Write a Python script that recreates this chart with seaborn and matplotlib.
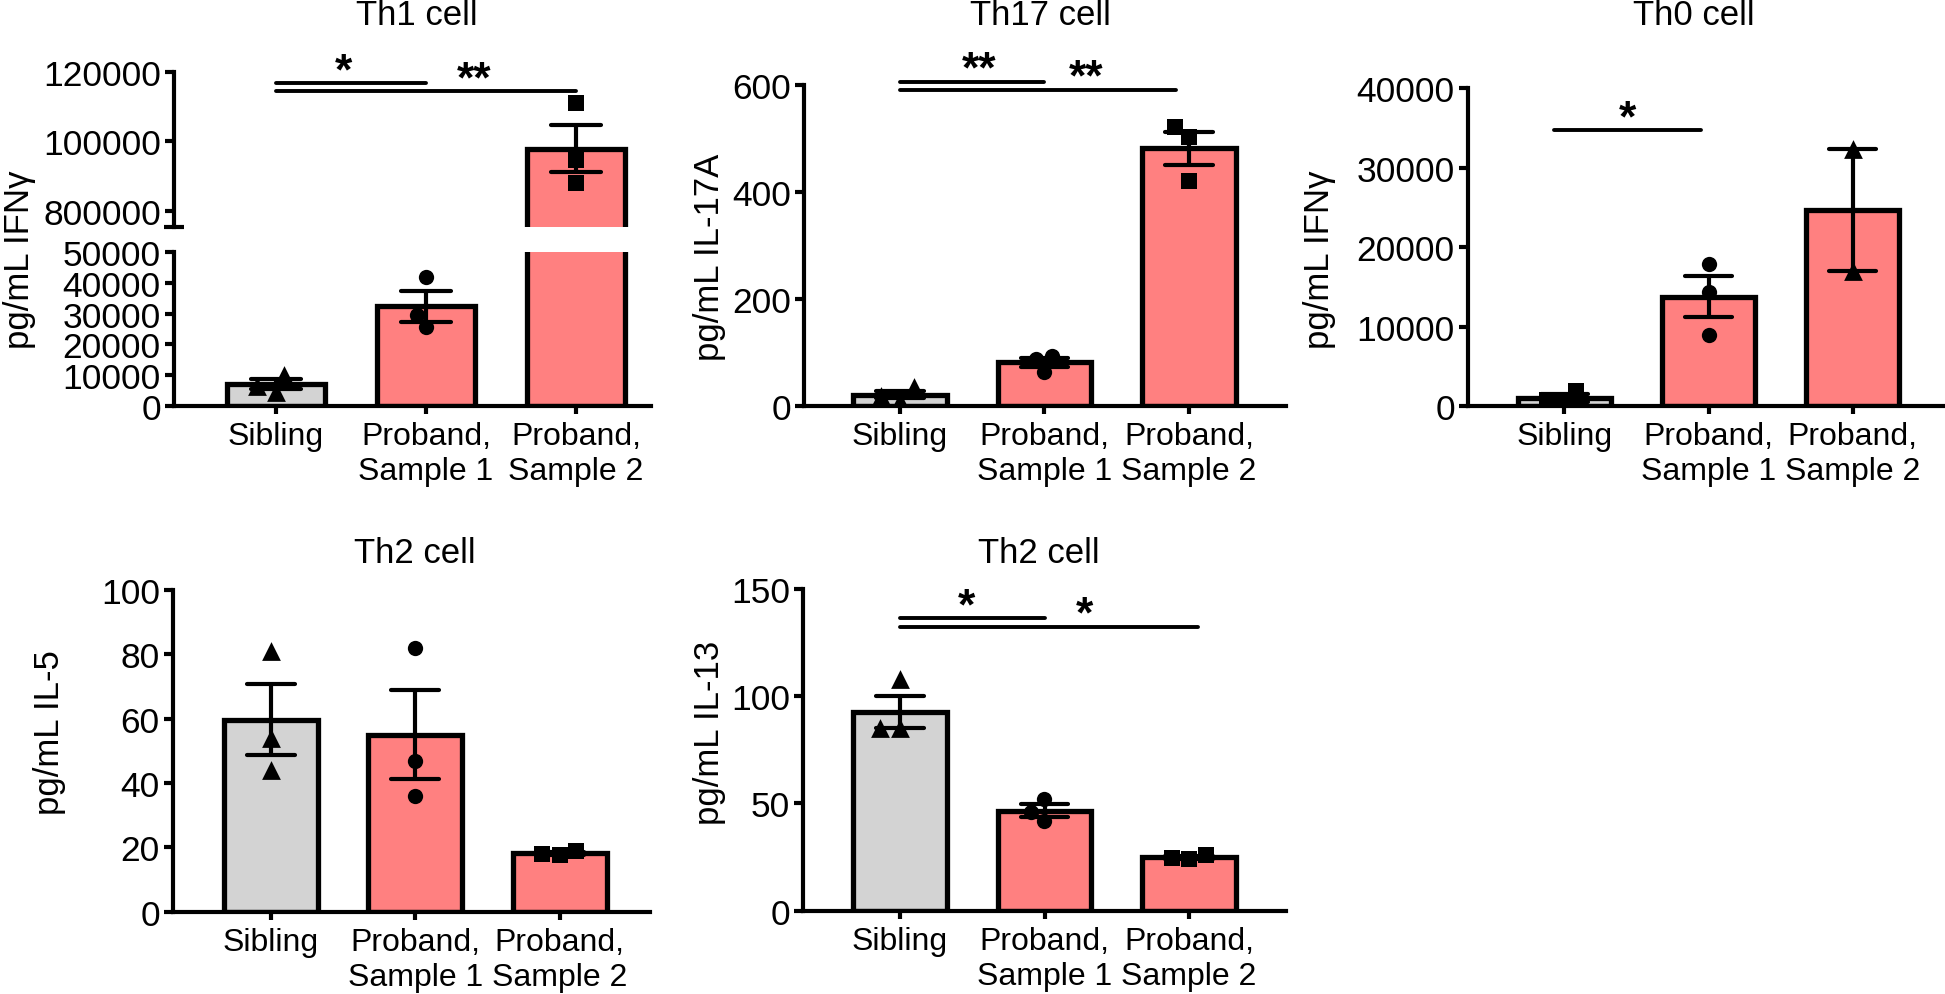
import matplotlib
matplotlib.use("Agg")
import matplotlib.pyplot as plt
import seaborn as sns
import pandas as pd

# groups and colours
groups = ["Sibling", "Proband,\nSample 1", "Proband,\nSample 2"]
bar_colors = ["#d3d3d3", "#ff8080", "#ff8080"]

# replicate values (pg/mL)
th1_ifng = [[10000, 6500, 4500], [42000, 29500, 25500], [111000, 94500, 88000]]
th17_il17a = [[35, 19, 10], [93, 88, 64], [521, 502, 421]]
th0_ifng = [[1900, 800, 300], [17900, 14400, 9000], [32400, 17000]]
th2_il5 = [[81, 54, 44], [82, 47, 36], [19, 17.5, 18]]
th2_il13 = [[108, 85, 85], [52, 46, 42], [26, 24, 24.5]]

markers_std = ["^", "o", "s"]
markers_th0 = ["s", "o", "^"]
marker_size = {"^": 13.5, "o": 11, "s": 12}

# significance bars: (from group, to group, y, label, label x)
th1_sig = [(0, 1, 116700, "*", 0.45), (0, 2, 114400, "**", 1.32)]
th17_sig = [(0, 1, 606, "**", 0.55), (0, 1.91, 591, "**", 1.29)]
th0_sig = [(-0.07, 0.95, 34700, "*", 0.44)]
il13_sig = [(0, 1, 136.3, "*", 0.46), (0, 2.06, 132.4, "*", 1.28)]

sns.set_style("ticks", {"axes.edgecolor": "black", "xtick.color": "black",
                        "ytick.color": "black", "text.color": "black"})
plt.rcParams["font.family"] = ["Liberation Sans", "DejaVu Sans"]

W, H = 1945, 995
fig = plt.figure(figsize=(W / 100, H / 100), dpi=100)


def add_ax(left, top, right, bottom):
    return fig.add_axes([left / W, 1 - bottom / H, (right - left) / W, (bottom - top) / H])


def long_df(values):
    rows = [(g, v) for g, vals in zip(groups, values) for v in vals]
    return pd.DataFrame(rows, columns=["group", "value"])


def draw(ax, values, markers):
    df = long_df(values)
    sns.barplot(data=df, x="group", y="value", order=groups, hue="group",
                palette=dict(zip(groups, bar_colors)), saturation=1, legend=False,
                errorbar="se", capsize=0.33, width=0.65,
                edgecolor="black", linewidth=3.8,
                err_kws={"color": "black", "linewidth": 3}, ax=ax)
    for g, m in zip(groups, markers):
        sub = df[df["group"] == g]
        sns.swarmplot(data=sub, x="group", y="value", order=groups, marker=m,
                      color="black", size=marker_size[m], ax=ax, zorder=5)


def style(ax, xlim, show_x=True):
    ax.set_xlim(*xlim)
    ax.set_xlabel("")
    ax.set_ylabel("")
    sns.despine(ax=ax)
    for s in ["left", "bottom"]:
        ax.spines[s].set_linewidth(3)
    ax.tick_params(axis="y", labelsize=25.5, width=3, length=6.5, pad=3)
    ax.tick_params(axis="x", labelsize=23, width=3, length=6, pad=5)
    if not show_x:
        ax.spines["bottom"].set_visible(False)
        ax.tick_params(axis="x", bottom=False, labelbottom=False)


def sig(ax, items):
    for i, j, y, lab, lx in items:
        ax.plot([i, j], [y, y], color="black", lw=2.8, clip_on=False)
        ax.annotate(lab, (lx, y), xytext=(0, 0), textcoords="offset points",
                    ha="center", va="baseline", fontsize=32, fontweight="bold",
                    annotation_clip=False)


# Th1, broken axis
ax1_lo = add_ax(174, 253, 651, 407)
ax1_hi = add_ax(174, 72.7, 651, 228)
draw(ax1_lo, th1_ifng, markers_std)
draw(ax1_hi, th1_ifng, markers_std)
ax1_lo.set_ylim(0, 50000)
ax1_lo.set_yticks(range(0, 50001, 10000))
ax1_hi.set_ylim(75300, 120000)
ax1_hi.set_yticks([80000, 100000, 120000])
ax1_hi.set_yticklabels(["800000", "100000", "120000"])
ax1_hi.set_yticks([75300], minor=True)
style(ax1_lo, (-0.68, 2.5))
style(ax1_hi, (-0.68, 2.5), show_x=False)
ax1_hi.tick_params(axis="y", which="minor", direction="inout", length=14, width=3)
sig(ax1_hi, th1_sig)

# Th17
ax2 = add_ax(804, 86, 1286, 407)
draw(ax2, th17_il17a, markers_std)
ax2.set_ylim(0, 600)
ax2.set_yticks([0, 200, 400, 600])
style(ax2, (-0.664, 2.671))
sig(ax2, th17_sig)

# Th0
ax3 = add_ax(1468, 89.3, 1945, 407)
draw(ax3, th0_ifng, markers_th0)
ax3.set_ylim(0, 40000)
ax3.set_yticks(range(0, 40001, 10000))
style(ax3, (-0.67, 2.642))
sig(ax3, th0_sig)

# Th2, IL-5
ax4 = add_ax(173, 591, 650, 912.7)
draw(ax4, th2_il5, markers_std)
ax4.set_ylim(0, 100)
ax4.set_yticks(range(0, 101, 20))
style(ax4, (-0.676, 2.625))

# Th2, IL-13
ax5 = add_ax(803, 590, 1286, 911.7)
draw(ax5, th2_il13, markers_std)
ax5.set_ylim(0, 150)
ax5.set_yticks([0, 50, 100, 150])
style(ax5, (-0.671, 2.671))
sig(ax5, il13_sig)

# titles and y labels
for x, y, t in [(416.7, 25, "Th1 cell"), (1040, 25, "Th17 cell"), (1694, 25, "Th0 cell"),
                (414.6, 562.7, "Th2 cell"), (1038.5, 562.7, "Th2 cell")]:
    fig.text(x / W, 1 - y / H, t, ha="center", va="baseline", fontsize=25)

for x, y, t in [(19.5, 260, "pg/mL IFNγ"), (710, 257, "pg/mL IL-17A"),
                (1319.5, 260, "pg/mL IFNγ"), (50, 733, "pg/mL IL-5"),
                (709, 733, "pg/mL IL-13")]:
    fig.text(x / W, 1 - y / H, t, ha="center", va="center", rotation=90, fontsize=25)

fig.savefig("out.png", dpi=100)
